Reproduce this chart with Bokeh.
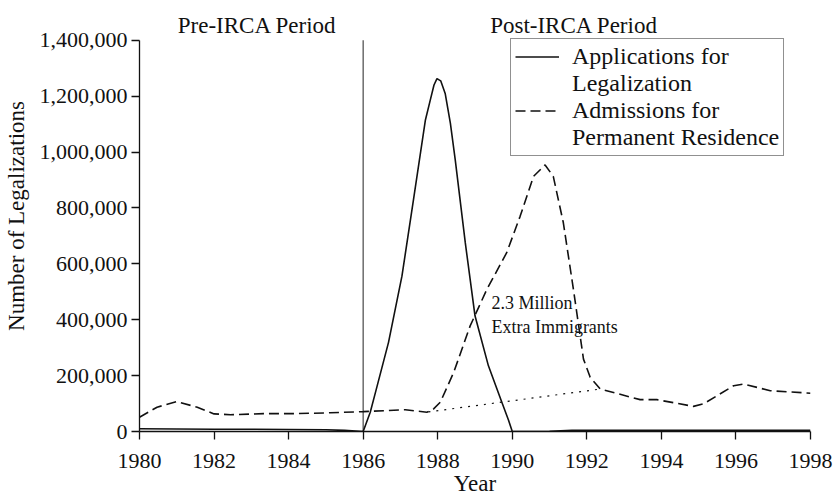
from bokeh.plotting import figure
from bokeh.models import (Range1d, FixedTicker, NumeralTickFormatter, Label,
                          Legend, LegendItem)
from bokeh.embed import file_html
from bokeh.resources import INLINE

# ---- data ----
app_years = [1980, 1981, 1982, 1983, 1984, 1985, 1985.5, 1986.0, 1986.19, 1986.33,
             1986.68, 1987.04, 1987.35, 1987.67, 1987.8, 1987.9, 1987.98, 1988.08,
             1988.2, 1988.34, 1988.47, 1988.74, 1989.0, 1989.36, 1989.72, 1989.9,
             1990.0, 1991.0, 1991.6, 1992, 1993, 1994, 1995, 1996, 1997, 1998]
app_values = [10000, 9000, 8000, 8000, 7000, 6000, 4000, 0, 69000, 140000,
              319000, 556000, 830000, 1115000, 1186000, 1240000, 1263000, 1255000,
              1210000, 1103000, 972000, 675000, 414000, 235000, 105000, 40000,
              0, 1000, 4000, 4000, 4000, 4000, 4000, 4000, 4000, 4000]

adm_years = [1980, 1980.47, 1981.0, 1981.55, 1982.0, 1982.44, 1983.33, 1984.22,
             1985.12, 1986.0, 1987.13, 1987.71, 1987.89, 1988.07, 1988.43, 1988.87,
             1989.32, 1989.85, 1990.21, 1990.57, 1990.88, 1991.1, 1991.37, 1991.64,
             1991.91, 1992.09, 1992.36, 1993.43, 1993.88, 1994.86, 1995.13, 1995.94,
             1996.2, 1996.92, 1997.9, 1998]
adm_values = [51000, 87000, 107000, 87000, 63000, 60000, 64000, 64000,
              67000, 71000, 78000, 69000, 81000, 105000, 212000, 378000,
              509000, 640000, 770000, 913000, 954000, 913000, 747000, 509000,
              259000, 194000, 152000, 114000, 114000, 90000, 99000, 164000,
              170000, 146000, 138000, 137000]

base_years = [1987.75, 1992.36]
base_values = [70000, 152000]

x_ticks = list(range(1980, 1999, 2))
y_ticks = list(range(0, 1400001, 200000))
irca_year = 1986

series_labels = [["Applications for", "Legalization"],
                 ["Admissions for", "Permanent Residence"]]
period_labels = ["Pre-IRCA Period", "Post-IRCA Period"]
period_centers = [1983.16, 1991.66]
annotation_lines = ["2.3 Million", "Extra Immigrants"]
x_title = "Year"
y_title = "Number of Legalizations"

FONT = "Liberation Serif"
INK = "#111111"
Y_TOP = 1542500   # headroom above the 1,400,000 axis end for the period headings

p = figure(width=837, height=498, output_backend="svg", toolbar_location=None,
           title=None,
           x_range=Range1d(1980, 1998), y_range=Range1d(0, Y_TOP),
           min_border_left=139, min_border_right=27, min_border_top=0,
           min_border_bottom=65)
p.outline_line_color = None
p.xgrid.grid_line_color = None
p.ygrid.grid_line_color = None
p.background_fill_color = "white"
p.border_fill_color = "white"

for ax in (p.xaxis[0], p.yaxis[0]):
    ax.axis_line_color = INK
    ax.axis_line_width = 1.3
    ax.major_tick_line_color = INK
    ax.major_tick_line_width = 1.3
    ax.major_tick_out = 8
    ax.major_tick_in = 0
    ax.minor_tick_line_color = None
    ax.major_label_text_font = FONT
    ax.major_label_text_font_size = "22px"
    ax.major_label_text_color = INK
    ax.axis_label_text_font = FONT
    ax.axis_label_text_font_size = "23px"
    ax.axis_label_text_font_style = "normal"
    ax.axis_label_text_color = INK

p.xaxis.ticker = FixedTicker(ticks=x_ticks)
p.yaxis.ticker = FixedTicker(ticks=y_ticks)
p.yaxis.formatter = NumeralTickFormatter(format="0,0")
p.yaxis.bounds = (y_ticks[0], y_ticks[-1])
p.xaxis.major_label_standoff = 14
p.yaxis.major_label_standoff = 4
p.xaxis.axis_label = x_title
p.xaxis.axis_label_standoff = 0
p.yaxis.axis_label = y_title
p.yaxis.axis_label_standoff = 8

# IRCA divider
p.segment(x0=[irca_year], y0=[y_ticks[0]], x1=[irca_year], y1=[y_ticks[-1]],
          line_color="#555555", line_width=1.3)

r_app = p.line(app_years, app_values, line_color=INK, line_width=1.6)
r_adm = p.line(adm_years, adm_values, line_color=INK, line_width=1.6,
               line_dash="10 5")
p.line(base_years, base_values, line_color=INK, line_width=1.2, line_dash="2 6")

# invisible renderers for the second line of each legend entry
r_blank1 = p.line([], [], line_alpha=0)
r_blank2 = p.line([], [], line_alpha=0)

legend = Legend(items=[
    LegendItem(label=series_labels[0][0], renderers=[r_app]),
    LegendItem(label=series_labels[0][1], renderers=[r_blank1]),
    LegendItem(label=series_labels[1][0], renderers=[r_adm]),
    LegendItem(label=series_labels[1][1], renderers=[r_blank2]),
], location=(371, 275))
legend.label_text_font = FONT
legend.label_text_font_size = "24px"
legend.label_text_color = INK
legend.label_height = 25
legend.glyph_height = 25
legend.glyph_width = 44
legend.label_standoff = 13
legend.spacing = 0
legend.padding = 4
legend.margin = 0
legend.border_line_color = "#222222"
legend.border_line_width = 1.2
legend.background_fill_color = "white"
legend.background_fill_alpha = 1
p.add_layout(legend)

# period headings above the axis end
for txt, xc in zip(period_labels, period_centers):
    p.add_layout(Label(x=xc, y=1453500, text=txt, text_font=FONT,
                       text_font_size="23px", text_align="center",
                       text_baseline="alphabetic", text_color=INK))

# annotation
p.add_layout(Label(x=1989.44, y=460000, text=annotation_lines[0], text_font=FONT,
                   text_font_size="18px", text_align="left",
                   text_baseline="middle", text_color=INK))
p.add_layout(Label(x=1989.44, y=373000, text=annotation_lines[1], text_font=FONT,
                   text_font_size="18px", text_align="left",
                   text_baseline="middle", text_color=INK))

open("out.html", "w").write(file_html(p, INLINE))
